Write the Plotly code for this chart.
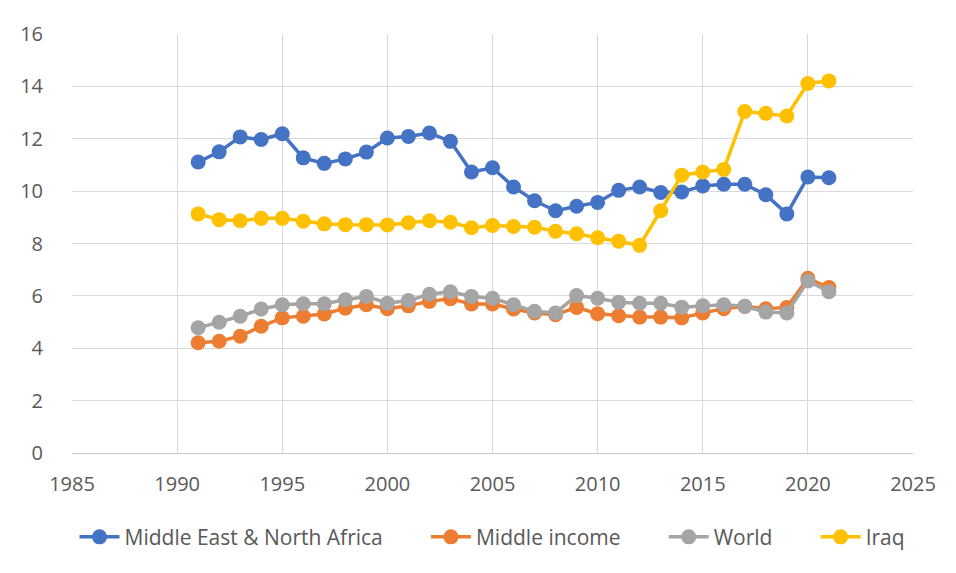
import plotly.graph_objects as go

years = list(range(1991, 2022))

mena = [11.11, 11.50, 12.07, 11.97, 12.19, 11.27, 11.06, 11.23, 11.49, 12.03,
        12.09, 12.22, 11.90, 10.73, 10.89, 10.16, 9.63, 9.25, 9.42, 9.57,
        10.03, 10.16, 9.95, 9.97, 10.20, 10.26, 10.26, 9.86, 9.13, 10.54, 10.51]

middle_income = [4.21, 4.27, 4.46, 4.84, 5.16, 5.22, 5.31, 5.53, 5.66, 5.51,
                 5.62, 5.79, 5.89, 5.69, 5.69, 5.50, 5.35, 5.28, 5.56, 5.32,
                 5.24, 5.19, 5.19, 5.16, 5.35, 5.51, 5.60, 5.51, 5.56, 6.67, 6.32]

world = [4.78, 4.99, 5.22, 5.50, 5.66, 5.70, 5.70, 5.85, 5.98, 5.72,
         5.82, 6.06, 6.16, 5.98, 5.91, 5.66, 5.41, 5.35, 6.01, 5.91,
         5.76, 5.72, 5.72, 5.57, 5.62, 5.66, 5.60, 5.38, 5.35, 6.57, 6.16]

iraq = [9.13, 8.91, 8.87, 8.96, 8.96, 8.85, 8.75, 8.72, 8.72, 8.71,
        8.79, 8.87, 8.81, 8.60, 8.69, 8.65, 8.62, 8.47, 8.37, 8.22,
        8.09, 7.93, 9.25, 10.61, 10.73, 10.83, 13.04, 12.97, 12.87, 14.11, 14.21]

series_names = ["Middle East & North Africa", "Middle income", "World", "Iraq"]
series_values = [mena, middle_income, world, iraq]
colors = ["#4472C4", "#ED7D31", "#A5A5A5", "#FFC000"]

x_ticks = [1985, 1990, 1995, 2000, 2005, 2010, 2015, 2020, 2025]
y_ticks = [0, 2, 4, 6, 8, 10, 12, 14, 16]

PAD = "\u00a0" * 7  # visual spacing between legend entries

fig = go.Figure()
for i, (name, vals, col) in enumerate(zip(series_names, series_values, colors)):
    label = name + (PAD if i < len(series_names) - 1 else "")
    fig.add_trace(go.Scatter(
        x=years, y=vals, name=label, mode="lines+markers",
        line=dict(color=col, width=3.5),
        marker=dict(color=col, size=15, line=dict(width=0)),
    ))

FONT = "'Open Sans', 'Noto Sans', sans-serif"

fig.update_layout(
    width=956, height=573,
    margin=dict(l=64, r=51, t=22, b=128),
    paper_bgcolor="white", plot_bgcolor="white",
    font=dict(family=FONT, size=20, color="#595959"),
    showlegend=True,
    legend=dict(orientation="h", x=0.5, xanchor="center", y=-0.201, yanchor="middle",
                font=dict(family=FONT, size=21, color="#595959"),
                itemwidth=40, tracegroupgap=0),
    xaxis=dict(range=[1985, 2025], tickvals=x_ticks, ticktext=[str(v) for v in x_ticks],
               showgrid=True, gridcolor="#D9D9D9", gridwidth=1,
               showline=True, linecolor="#C8C8C8", linewidth=1, mirror=False,
               zeroline=False, ticks="", ticklabelstandoff=13,
               tickfont=dict(family=FONT, size=20, color="#595959")),
    yaxis=dict(range=[0, 16], tickvals=y_ticks, ticktext=[str(v) for v in y_ticks],
               showgrid=True, gridcolor="#D9D9D9", gridwidth=1,
               showline=False, zeroline=False, ticks="", ticklabelstandoff=28,
               tickfont=dict(family=FONT, size=20, color="#595959")),
)

fig.write_html("out.html")
